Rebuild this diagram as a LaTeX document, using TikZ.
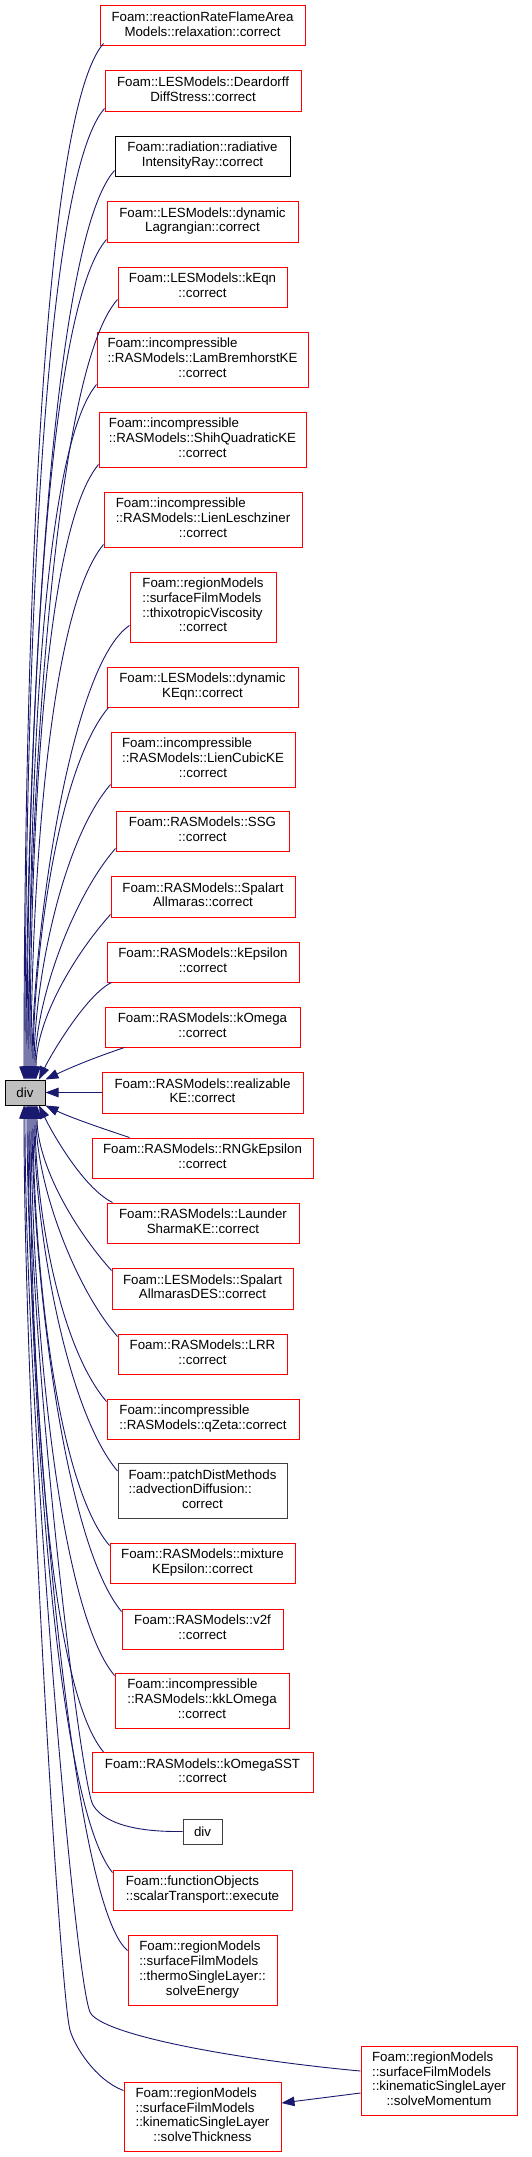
\documentclass[tikz,border=0pt]{standalone}
\usepackage{fontspec}
\setmainfont{Liberation Sans}
\usetikzlibrary{arrows.meta}
\definecolor{edgeblue}{HTML}{191970}
\definecolor{boxred}{HTML}{FF0000}
\definecolor{grayfill}{HTML}{BFBFBF}
\definecolor{darkborder}{HTML}{404040}
\newcommand{\lbl}[2]{\begin{tabular}{@{}l@{}}#1\\\multicolumn{1}{@{}c@{}}{#2}\end{tabular}}
\tikzset{
  box/.style={draw=boxred, fill=white, line width=1pt, inner sep=0pt,
    font=\fontsize{13.3}{14.7}\selectfont},
  edge/.style={draw=edgeblue, line width=0.9pt,
    -{Triangle[length=13pt,width=9.5pt]}},
  nav/.style={draw=edgeblue, line width=0.9pt}
}
\begin{document}
\begin{tikzpicture}[x=1pt,y=1pt]
\fill[white] (0,0) rectangle (531,-2157);
\useasboundingbox (0,0) rectangle (531,-2157);

\node[box, minimum width=205pt, minimum height=40pt] (n1) at (202.5,-26) {\lbl{Foam::reactionRateFlameArea}{Models::relaxation::correct}};
\node[box, minimum width=196pt, minimum height=40pt] (n2) at (203,-91) {\lbl{Foam::LESModels::Deardorff}{DiffStress::correct}};
\node[box, draw=black, minimum width=175pt, minimum height=40pt] (n3) at (202.5,-156) {\lbl{Foam::radiation::radiative}{IntensityRay::correct}};
\node[box, minimum width=191pt, minimum height=41pt] (n4) at (202.5,-221.5) {\lbl{Foam::LESModels::dynamic}{Lagrangian::correct}};
\node[box, minimum width=169pt, minimum height=40pt] (n5) at (202.5,-287) {\lbl{Foam::LESModels::kEqn}{::correct}};
\node[box, minimum width=211pt, minimum height=55pt] (n6) at (202.5,-359.5) {\lbl{Foam::incompressible\\::RASModels::LamBremhorstKE}{::correct}};
\node[box, minimum width=207pt, minimum height=55pt] (n7) at (202.5,-439.5) {\lbl{Foam::incompressible\\::RASModels::ShihQuadraticKE}{::correct}};
\node[box, minimum width=198pt, minimum height=55pt] (n8) at (203,-519.5) {\lbl{Foam::incompressible\\::RASModels::LienLeschziner}{::correct}};
\node[box, minimum width=146pt, minimum height=70pt] (n9) at (203,-607) {\lbl{Foam::regionModels\\::surfaceFilmModels\\::thixotropicViscosity}{::correct}};
\node[box, minimum width=191pt, minimum height=40pt] (n10) at (202.5,-687) {\lbl{Foam::LESModels::dynamic}{KEqn::correct}};
\node[box, minimum width=184pt, minimum height=55pt] (n11) at (203,-759.5) {\lbl{Foam::incompressible\\::RASModels::LienCubicKE}{::correct}};
\node[box, minimum width=173pt, minimum height=40pt] (n12) at (202.5,-831) {\lbl{Foam::RASModels::SSG}{::correct}};
\node[box, minimum width=184pt, minimum height=41pt] (n13) at (203,-896.5) {\lbl{Foam::RASModels::Spalart}{Allmaras::correct}};
\node[box, minimum width=192pt, minimum height=40pt] (n14) at (203,-962) {\lbl{Foam::RASModels::kEpsilon}{::correct}};
\node[box, minimum width=195pt, minimum height=40pt] (n15) at (202.5,-1027) {\lbl{Foam::RASModels::kOmega}{::correct}};
\node[box, minimum width=201pt, minimum height=41pt] (n16) at (202.5,-1092.5) {\lbl{Foam::RASModels::realizable}{KE::correct}};
\node[box, draw=black, fill=grayfill, minimum width=40pt, minimum height=25pt] (dv) at (25,-1092.5) {div};
\node[box, minimum width=221pt, minimum height=40pt] (n17) at (202.5,-1158) {\lbl{Foam::RASModels::RNGkEpsilon}{::correct}};
\node[box, minimum width=192pt, minimum height=40pt] (n18) at (203,-1223) {\lbl{Foam::RASModels::Launder}{SharmaKE::correct}};
\node[box, minimum width=181pt, minimum height=41pt] (n19) at (202.5,-1288.5) {\lbl{Foam::LESModels::Spalart}{AllmarasDES::correct}};
\node[box, minimum width=169pt, minimum height=40pt] (n20) at (202.5,-1354) {\lbl{Foam::RASModels::LRR}{::correct}};
\node[box, minimum width=192pt, minimum height=40pt] (n21) at (203,-1419) {\lbl{Foam::incompressible}{::RASModels::qZeta::correct}};
\node[box, draw=darkborder, minimum width=169pt, minimum height=55pt] (n22) at (202.5,-1491) {\lbl{Foam::patchDistMethods\\::advectionDiffusion::}{correct}};
\node[box, minimum width=185pt, minimum height=40pt] (n23) at (202.5,-1563) {\lbl{Foam::RASModels::mixture}{KEpsilon::correct}};
\node[box, minimum width=161pt, minimum height=40pt] (n24) at (202.5,-1629) {\lbl{Foam::RASModels::v2f}{::correct}};
\node[box, minimum width=174pt, minimum height=55pt] (n25) at (202,-1700.5) {\lbl{Foam::incompressible\\::RASModels::kkLOmega}{::correct}};
\node[box, minimum width=221pt, minimum height=40pt] (n26) at (202.5,-1772.5) {\lbl{Foam::RASModels::kOmegaSST}{::correct}};
\node[box, draw=darkborder, minimum width=39pt, minimum height=25pt] (n27) at (202.5,-1831.5) {div};
\node[box, minimum width=179pt, minimum height=40pt] (n28) at (202.5,-1890) {\lbl{Foam::functionObjects}{::scalarTransport::execute}};
\node[box, minimum width=149pt, minimum height=70pt] (n29) at (202.5,-1970) {\lbl{Foam::regionModels\\::surfaceFilmModels\\::thermoSingleLayer::}{solveEnergy}};
\node[box, minimum width=156pt, minimum height=69pt] (n30) at (439,-2080.5) {\lbl{Foam::regionModels\\::surfaceFilmModels\\::kinematicSingleLayer}{::solveMomentum}};
\node[box, minimum width=157pt, minimum height=69pt] (n31) at (202.5,-2116.5) {\lbl{Foam::regionModels\\::surfaceFilmModels\\::kinematicSingleLayer}{::solveThickness}};

% upper callers
\draw[edge] ([xshift=4pt,yshift=3pt]n1.south west) .. controls +(-70,-80) and +(0,300) .. ([xshift=-1pt]dv.north);
\draw[edge] ([yshift=3pt]n2.south west) .. controls +(-70,-80) and +(0,285) .. ([xshift=0pt]dv.north);
\draw[edge] ([yshift=6pt]n3.south west) .. controls +(-70,-78) and +(0,265) .. ([xshift=1pt]dv.north);
\draw[edge] ([yshift=3pt]n4.south west) .. controls +(-68,-78) and +(0,245) .. ([xshift=2pt]dv.north);
\draw[edge] ([yshift=8pt]n5.south west) .. controls +(-68,-76) and +(0,225) .. ([xshift=3pt]dv.north);
\draw[edge] ([yshift=3pt]n6.south west) .. controls +(-62,-75) and +(0,205) .. ([xshift=4pt]dv.north);
\draw[edge] ([yshift=3pt]n7.south west) .. controls +(-60,-72) and +(0,185) .. ([xshift=5pt]dv.north);
\draw[edge] ([yshift=3pt]n8.south west) .. controls +(-58,-70) and +(0,165) .. ([xshift=6pt]dv.north);
\draw[edge] ([yshift=17pt]n9.south west) .. controls +(-60,-40) and +(0,140) .. ([xshift=7pt]dv.north);
\draw[edge] ([xshift=2pt]n10.south west) .. controls +(-52,-62) and +(0,120) .. ([xshift=8pt]dv.north);
\draw[edge] ([yshift=3pt]n11.south west) .. controls +(-48,-56) and +(0,100) .. ([xshift=9pt]dv.north);
\draw[edge] ([yshift=3pt]n12.south west) .. controls +(-42,-48) and +(0,80) .. ([xshift=10pt]dv.north);
\draw[edge] ([yshift=3pt]n13.south west) .. controls +(-36,-40) and +(0,60) .. ([xshift=11pt]dv.north);
\draw[edge] ([xshift=5pt]n14.south west) .. controls +(-25,-12) and +(12,25) .. ([xshift=14pt]dv.north);
\draw[edge] ([xshift=20pt]n15.south west) .. controls +(-30,-10) and +(25,12) .. (dv.north east);
\draw[edge] (n16.west) -- (dv.east);
% lower callers
\draw[edge] ([xshift=38pt]n17.north west) .. controls +(-30,10) and +(25,-12) .. (dv.south east);
\draw[edge] ([xshift=6pt]n18.north west) .. controls +(-30,15) and +(12,-25) .. ([xshift=14pt]dv.south);
\draw[edge] ([yshift=-3pt]n19.north west) .. controls +(-36,40) and +(0,-60) .. ([xshift=12pt]dv.south);
\draw[edge] ([yshift=-3pt]n20.north west) .. controls +(-42,48) and +(0,-80) .. ([xshift=11pt]dv.south);
\draw[edge] ([yshift=-3pt]n21.north west) .. controls +(-48,56) and +(0,-100) .. ([xshift=10pt]dv.south);
\draw[edge] ([yshift=-8pt]n22.north west) .. controls +(-52,62) and +(0,-120) .. ([xshift=9pt]dv.south);
\draw[edge] ([yshift=-3pt]n23.north west) .. controls +(-56,66) and +(0,-140) .. ([xshift=8pt]dv.south);
\draw[edge] ([yshift=-3pt]n24.north west) .. controls +(-58,70) and +(0,-160) .. ([xshift=7pt]dv.south);
\draw[edge] ([yshift=-3pt]n25.north west) .. controls +(-60,72) and +(0,-180) .. ([xshift=6pt]dv.south);
\draw[edge] ([xshift=12pt]n26.north west) .. controls +(-62,75) and +(0,-200) .. ([xshift=5pt]dv.south);
\draw[edge] (n27.west) .. controls (140,-1832) and (105,-1825) .. (93,-1805) .. controls (81,-1785) and (29,-1360) .. ([xshift=4pt]dv.south);
\draw[edge] ([yshift=-3pt]n28.north west) .. controls +(-62,76) and +(0,-220) .. ([xshift=3pt]dv.south);
\draw[edge] ([yshift=-16pt]n29.north west) .. controls +(-60,50) and +(0,-240) .. ([xshift=2pt]dv.south);
\draw[edge] ([yshift=9.5pt]n30.west) .. controls (240,-2060) and (100,-2035) .. (90,-2012) .. controls (74,-1975) and (25,-1400) .. ([xshift=0pt]dv.south);
\draw[edge] ([yshift=-9pt]n31.north west) .. controls (95,-2080) and (74,-2045) .. (70,-2030) .. controls (60,-1995) and (24,-1400) .. ([xshift=-1pt]dv.south);
\draw[edge] ([yshift=-12.5pt]n30.west) -- ([yshift=13.5pt]n31.east);
\end{tikzpicture}
\end{document}
